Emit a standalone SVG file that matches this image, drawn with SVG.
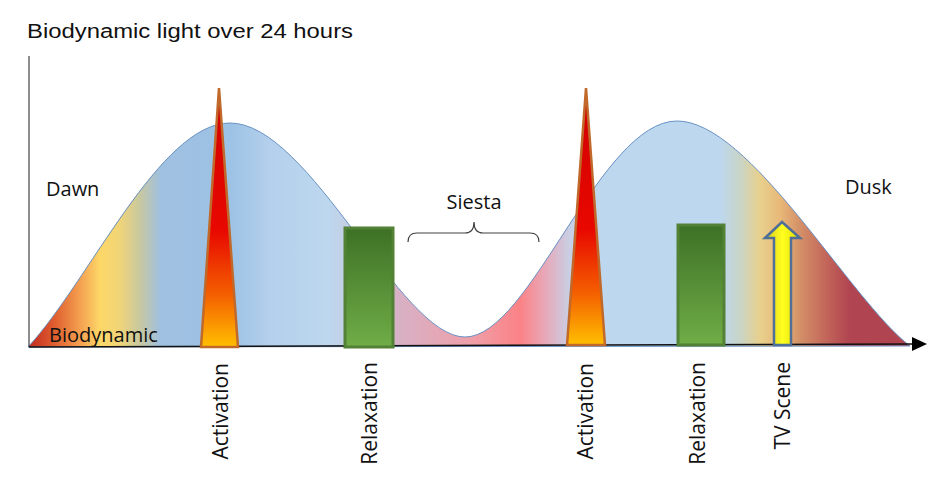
<svg xmlns="http://www.w3.org/2000/svg" width="949" height="489" viewBox="0 0 949 489">
<style>
.lbl{font-family:"Open Sans","Noto Sans",sans-serif;font-size:20px;fill:#111}
.rot{font-family:"Open Sans","Noto Sans",sans-serif;font-size:21px;fill:#111;text-anchor:end}
.title{font-family:"Liberation Sans",Arial,sans-serif;font-size:20px;fill:#111}
.spike{fill:url(#gSpike);stroke:#c0692a;stroke-width:2.5;stroke-linejoin:miter}
.relax{fill:url(#gGreen);stroke:#538135;stroke-width:3}
</style>
<defs>
<linearGradient id="gCurve" gradientUnits="userSpaceOnUse" x1="28" y1="0" x2="910" y2="0">
<stop offset="0" stop-color="#c0281f"/>
<stop offset="0.031" stop-color="#e06030"/>
<stop offset="0.059" stop-color="#f4a050"/>
<stop offset="0.082" stop-color="#fdd868"/>
<stop offset="0.104" stop-color="#f0d478"/>
<stop offset="0.127" stop-color="#c8c8a0"/>
<stop offset="0.150" stop-color="#a0c0e0"/>
<stop offset="0.229" stop-color="#9cc2e5"/>
<stop offset="0.274" stop-color="#b4d0ec"/>
<stop offset="0.342" stop-color="#bdd7ee"/>
<stop offset="0.376" stop-color="#c8c8dc"/>
<stop offset="0.422" stop-color="#d8b0c4"/>
<stop offset="0.501" stop-color="#eea0aa"/>
<stop offset="0.558" stop-color="#fb8286"/>
<stop offset="0.586" stop-color="#e8a8b8"/>
<stop offset="0.615" stop-color="#c8d0e6"/>
<stop offset="0.649" stop-color="#bdd7ee"/>
<stop offset="0.785" stop-color="#bdd7ee"/>
<stop offset="0.807" stop-color="#c8d4c8"/>
<stop offset="0.830" stop-color="#e8d08c"/>
<stop offset="0.853" stop-color="#e8b878"/>
<stop offset="0.875" stop-color="#d49068"/>
<stop offset="0.909" stop-color="#c06058"/>
<stop offset="0.932" stop-color="#b04450"/>
<stop offset="1" stop-color="#b04450"/>
</linearGradient>
<linearGradient id="gSpike" x1="0" y1="0" x2="0" y2="1">
<stop offset="0" stop-color="#d00000"/>
<stop offset="0.55" stop-color="#e80800"/>
<stop offset="0.8" stop-color="#f46000"/>
<stop offset="1" stop-color="#ffbf00"/>
</linearGradient>
<linearGradient id="gGreen" x1="0" y1="0" x2="0" y2="1">
<stop offset="0" stop-color="#3d7126"/>
<stop offset="1" stop-color="#70ad47"/>
</linearGradient>
<linearGradient id="gYellow" x1="0" y1="0" x2="1" y2="0">
<stop offset="0" stop-color="#d4c820"/>
<stop offset="0.5" stop-color="#ffff20"/>
<stop offset="1" stop-color="#e0d800"/>
</linearGradient>
</defs>

<text class="title" x="27" y="38" textLength="326" lengthAdjust="spacingAndGlyphs">Biodynamic light over 24 hours</text>

<g id="curve">
<path d="M28,347 C90,280 160,123 230,123 C310,123 400,337 465,337 C530,337 600,121 677,121 C750,121 850,300 910,346 Z" fill="url(#gCurve)" stroke="#6a92c4" stroke-width="1"/>
</g>

<g id="connectors">
<line x1="29" y1="56" x2="29" y2="347" stroke="#404040" stroke-width="1.2"/>
<line x1="29" y1="347" x2="913" y2="344" stroke="#111" stroke-width="1.5"/>
<polygon points="912,337 927,344 912,351" fill="#000"/>
<path d="M408,242 Q408,233 417,233 H465 Q474,233 474,222 Q474,233 483,233 H530 Q539,233 539,242" fill="none" stroke="#404040" stroke-width="1.2"/>
</g>

<g id="activation1"><polygon class="spike" points="219,88 238,347 201,347"/></g>
<g id="relaxation1"><rect class="relax" x="345" y="228" width="48" height="119"/></g>
<g id="activation2"><polygon class="spike" points="586,88 605,345 567,345"/></g>
<g id="relaxation2"><rect class="relax" x="678" y="225" width="46" height="120"/></g>
<g id="tvscene"><polygon points="782,222 800,238 791,238 791,345 774,345 774,238 765,238" fill="url(#gYellow)" stroke="#4f6f96" stroke-width="2.5" stroke-linejoin="miter"/></g>

<g id="labels">
<text class="lbl" x="46" y="196">Dawn</text>
<text class="lbl" x="845" y="194">Dusk</text>
<text class="lbl" x="474" y="209" text-anchor="middle">Siesta</text>
<text class="lbl" x="49" y="342">Biodynamic</text>
<text class="rot" transform="translate(228,363) rotate(-90)">Activation</text>
<text class="rot" transform="translate(377,362) rotate(-90)">Relaxation</text>
<text class="rot" transform="translate(593,363) rotate(-90)">Activation</text>
<text class="rot" transform="translate(705,362) rotate(-90)">Relaxation</text>
<text class="rot" transform="translate(790,362) rotate(-90)">TV Scene</text>
</g>
</svg>
